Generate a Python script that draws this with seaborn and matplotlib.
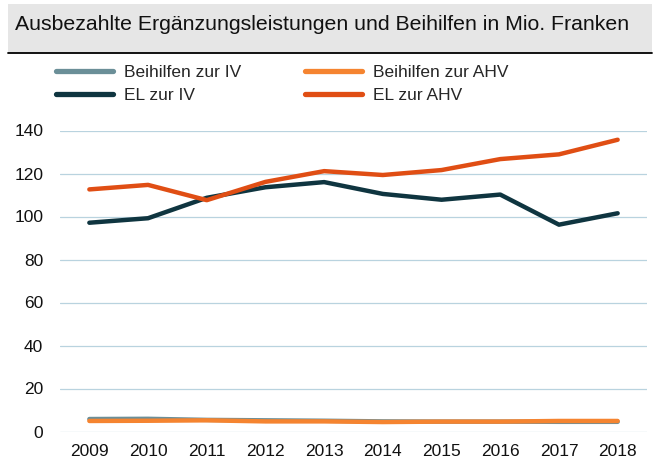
import matplotlib
matplotlib.use("Agg")
import matplotlib.pyplot as plt
from matplotlib.patches import Rectangle
from matplotlib.lines import Line2D
import pandas as pd
import seaborn as sns

years = ["2009", "2010", "2011", "2012", "2013", "2014", "2015", "2016", "2017", "2018"]
beihilfen_iv = [5.8, 5.9, 5.4, 5.2, 5.0, 4.7, 4.6, 4.6, 4.5, 4.5]
beihilfen_ahv = [4.9, 5.0, 5.2, 4.7, 4.7, 4.4, 4.6, 4.6, 4.9, 4.9]
el_iv = [97.1, 99.2, 108.7, 113.6, 116.0, 110.5, 107.8, 110.2, 96.2, 101.5]
el_ahv = [112.6, 114.7, 107.6, 116.1, 121.1, 119.3, 121.6, 126.7, 128.9, 135.7]

series_names = ["Beihilfen zur IV", "Beihilfen zur AHV", "EL zur IV", "EL zur AHV"]
series_values = [beihilfen_iv, beihilfen_ahv, el_iv, el_ahv]
colors = ["#6b8f98", "#f58430", "#0f3540", "#e04e14"]
legend_order = ["Beihilfen zur IV", "EL zur IV", "Beihilfen zur AHV", "EL zur AHV"]
title = "Ausbezahlte Ergänzungsleistungen und Beihilfen in Mio. Franken"

df = pd.DataFrame(
    [(y, name, v) for name, vals in zip(series_names, series_values) for y, v in zip(years, vals)],
    columns=["Jahr", "Reihe", "Wert"],
)

sns.set_theme(style="white")
plt.rcParams["font.family"] = ["Liberation Sans", "DejaVu Sans"]

W, H = 653, 459
fig = plt.figure(figsize=(W / 100, H / 100), dpi=100)
ax = fig.add_axes([60 / W, 1 - 431.5 / H, 587 / W, (431.5 - 130.5) / H])

palette = dict(zip(series_names, colors))
sns.lineplot(data=df, x="Jahr", y="Wert", hue="Reihe", hue_order=series_names,
             palette=palette, linewidth=3.2, ax=ax, legend=False,
             solid_capstyle="round", sort=False)

ax.set_xlim(-0.5, len(years) - 0.5)
ax.set_ylim(0, 140)
ax.set_yticks(range(0, 141, 20))
ax.set_xlabel("")
ax.set_ylabel("")
ax.grid(axis="y", color="#b9d3df", linewidth=0.9)
ax.grid(axis="x", visible=False)
ax.set_axisbelow(True)
for s in ax.spines.values():
    s.set_visible(False)
ax.tick_params(axis="y", length=0, pad=12, labelsize=12.5, labelcolor="#111111")
ax.tick_params(axis="x", length=0, pad=9, labelsize=12.5, labelcolor="#111111")
for line in ax.lines:
    line.set_clip_on(False)

# Header band with title and rule underneath
fig.patches.append(Rectangle((8 / W, 1 - 53 / H), 644 / W, 49 / H,
                             transform=fig.transFigure, facecolor="#e6e6e6",
                             edgecolor="none", zorder=0))
fig.lines.append(Line2D([8 / W, 652 / W], [1 - 53 / H, 1 - 53 / H],
                        transform=fig.transFigure, color="black", linewidth=1.3))
fig.text(15 / W, 1 - 24 / H, title, ha="left", va="center", fontsize=15.3, color="#111111")

handles = [Line2D([], [], color=palette[n], linewidth=3.8, solid_capstyle="round")
           for n in legend_order]
fig.legend(handles, legend_order, ncol=2, loc="upper left",
           bbox_to_anchor=(56 / W, 1 - 65 / H), frameon=False, fontsize=12.5,
           handlelength=3.3, handletextpad=0.6, columnspacing=3.7,
           labelspacing=0.45, borderpad=0, borderaxespad=0)

fig.savefig("out.png", dpi=100)
